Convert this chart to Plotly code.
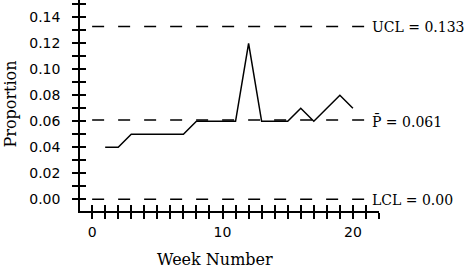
import plotly.graph_objects as go

# ---- data ----
weeks = list(range(1, 21))
proportion = [0.04, 0.04, 0.05, 0.05, 0.05, 0.05, 0.05, 0.06, 0.06, 0.06,
              0.06, 0.12, 0.06, 0.06, 0.06, 0.07, 0.06, 0.07, 0.08, 0.07]
ucl = 0.133
p_bar = 0.061
lcl = 0.00
limit_x = [0, 21]

x_tick_vals = list(range(0, 23))
x_tick_text = [str(v) if v % 10 == 0 else "" for v in x_tick_vals]
y_tick_vals = [round(i * 0.01, 2) for i in range(0, 16)]
y_tick_text = [f"{v:.2f}" if (i % 2 == 0 and v <= 0.14) else "" for i, v in enumerate(y_tick_vals)]

limit_labels = ["UCL = 0.133", "P\u0304 = 0.061", "LCL = 0.00"]
limit_values = [ucl, p_bar, lcl]

BLACK = "#000000"
SERIF = "DejaVu Serif"
SANS = "DejaVu Sans"

fig = go.Figure()

for val in limit_values:
    fig.add_trace(go.Scatter(
        x=limit_x, y=[val, val], mode="lines",
        line=dict(color=BLACK, width=1.5, dash="12px,14px"),
        hoverinfo="skip", showlegend=False,
    ))

fig.add_trace(go.Scatter(
    x=weeks, y=proportion, mode="lines",
    line=dict(color=BLACK, width=1.5),
    hoverinfo="skip", showlegend=False,
))

# empty trace so the overlaid (inside-tick) axes are drawn
fig.add_trace(go.Scatter(x=[None], y=[None], xaxis="x2", yaxis="y2", mode="lines",
                         hoverinfo="skip", showlegend=False))

annotations = []
for txt, val in zip(limit_labels, limit_values):
    annotations.append(dict(
        x=limit_x[1], y=val, xref="x", yref="y", text=txt, showarrow=False,
        xanchor="left", yanchor="middle", xshift=4, yshift=-1,
        font=dict(family=SERIF, size=14, color=BLACK),
    ))

annotations.append(dict(
    x=(215 - 80) / 299, y=(211 - 259) / 211, xref="paper", yref="paper",
    text="Week Number", showarrow=False, xanchor="center", yanchor="middle",
    font=dict(family=SERIF, size=16, color=BLACK),
))
annotations.append(dict(
    x=(9.5 - 80) / 299, y=(211 - 104) / 211, xref="paper", yref="paper",
    text="Proportion", showarrow=False, xanchor="center", yanchor="middle",
    textangle=-90, font=dict(family=SERIF, size=16, color=BLACK),
))

x_range = [-0.93, 22]
y_range = [-0.009, 0.1533]

common_axis = dict(showgrid=False, zeroline=False, tickcolor=BLACK, tickwidth=1.5,
                   ticklen=6)

fig.update_layout(
    width=471, height=271,
    margin=dict(l=80, r=92, t=0, b=60, pad=0),
    paper_bgcolor="white", plot_bgcolor="white",
    showlegend=False, hovermode=False,
    annotations=annotations,
    xaxis=dict(range=x_range, tickmode="array", tickvals=x_tick_vals, ticktext=x_tick_text,
               ticks="outside", showline=True, linecolor=BLACK, linewidth=1.5,
               tickfont=dict(family=SANS, size=14, color=BLACK), ticklabelstandoff=1,
               **common_axis),
    xaxis2=dict(range=x_range, overlaying="x", anchor="y", side="bottom",
                tickmode="array", tickvals=x_tick_vals, ticks="inside",
                showticklabels=False, showline=False, **common_axis),
    yaxis=dict(range=y_range, tickmode="array", tickvals=y_tick_vals, ticktext=y_tick_text,
               ticks="outside", showline=True, linecolor=BLACK, linewidth=1.5,
               tickfont=dict(family=SANS, size=14, color=BLACK), ticklabelstandoff=9,
               **common_axis),
    yaxis2=dict(range=y_range, overlaying="y", anchor="x", side="left",
                tickmode="array", tickvals=y_tick_vals, ticks="inside",
                showticklabels=False, showline=False, **common_axis),
)

fig.write_html("out.html")
